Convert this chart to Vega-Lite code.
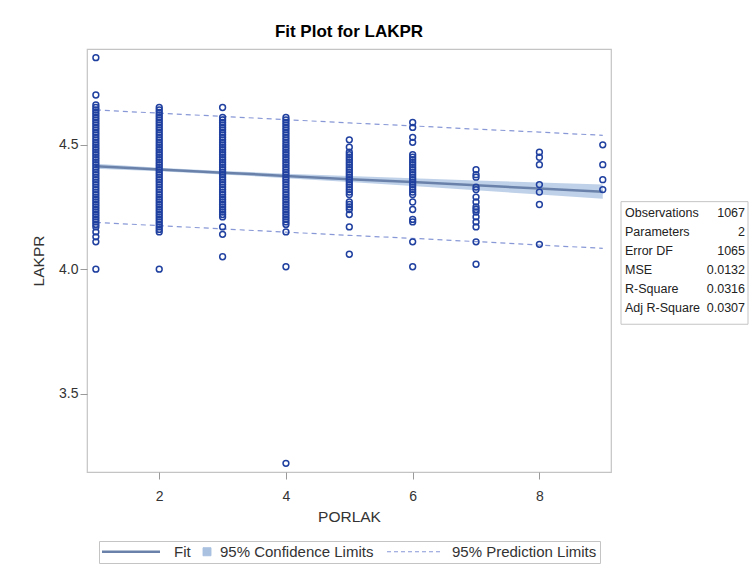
{
"$schema":"https://vega.github.io/schema/vega-lite/v6.json",
"padding":{"left":30,"top":22,"right":0,"bottom":0},
"background":"white",
"config":{"font":"Liberation Sans","view":{"stroke":"#c4c4c4","strokeWidth":1.2},
"legend":{"layout":{"bottom":{"anchor":"middle"}}},
"axis":{"grid":false,"domain":false,"tickColor":"#9a9a9a","tickSize":7,"labelFontSize":14,"labelColor":"#333333","titleFontSize":15.5,"titleFontWeight":"normal","titleColor":"#333333","labelFont":"Liberation Sans","titleFont":"Liberation Sans"}},
"datasets":{
"pts":[
{"PORLAK":1,"LAKPR":4.85},{"PORLAK":1,"LAKPR":4.70},{"PORLAK":1,"LAKPR":4.66},{"PORLAK":1,"LAKPR":4.65},{"PORLAK":1,"LAKPR":4.64},{"PORLAK":1,"LAKPR":4.63},{"PORLAK":1,"LAKPR":4.62},{"PORLAK":1,"LAKPR":4.61},{"PORLAK":1,"LAKPR":4.60},{"PORLAK":1,"LAKPR":4.59},{"PORLAK":1,"LAKPR":4.58},{"PORLAK":1,"LAKPR":4.57},{"PORLAK":1,"LAKPR":4.56},{"PORLAK":1,"LAKPR":4.55},{"PORLAK":1,"LAKPR":4.54},{"PORLAK":1,"LAKPR":4.53},{"PORLAK":1,"LAKPR":4.52},{"PORLAK":1,"LAKPR":4.51},{"PORLAK":1,"LAKPR":4.50},{"PORLAK":1,"LAKPR":4.49},{"PORLAK":1,"LAKPR":4.48},{"PORLAK":1,"LAKPR":4.47},{"PORLAK":1,"LAKPR":4.46},{"PORLAK":1,"LAKPR":4.45},{"PORLAK":1,"LAKPR":4.44},{"PORLAK":1,"LAKPR":4.43},{"PORLAK":1,"LAKPR":4.42},{"PORLAK":1,"LAKPR":4.41},{"PORLAK":1,"LAKPR":4.40},{"PORLAK":1,"LAKPR":4.39},{"PORLAK":1,"LAKPR":4.38},{"PORLAK":1,"LAKPR":4.37},{"PORLAK":1,"LAKPR":4.36},{"PORLAK":1,"LAKPR":4.35},{"PORLAK":1,"LAKPR":4.34},{"PORLAK":1,"LAKPR":4.33},{"PORLAK":1,"LAKPR":4.32},{"PORLAK":1,"LAKPR":4.31},{"PORLAK":1,"LAKPR":4.30},{"PORLAK":1,"LAKPR":4.29},{"PORLAK":1,"LAKPR":4.28},{"PORLAK":1,"LAKPR":4.27},{"PORLAK":1,"LAKPR":4.26},{"PORLAK":1,"LAKPR":4.25},{"PORLAK":1,"LAKPR":4.24},{"PORLAK":1,"LAKPR":4.23},{"PORLAK":1,"LAKPR":4.22},{"PORLAK":1,"LAKPR":4.21},{"PORLAK":1,"LAKPR":4.20},{"PORLAK":1,"LAKPR":4.19},{"PORLAK":1,"LAKPR":4.18},{"PORLAK":1,"LAKPR":4.17},{"PORLAK":1,"LAKPR":4.15},{"PORLAK":1,"LAKPR":4.13},{"PORLAK":1,"LAKPR":4.11},{"PORLAK":1,"LAKPR":4.00},
{"PORLAK":2,"LAKPR":4.65},{"PORLAK":2,"LAKPR":4.64},{"PORLAK":2,"LAKPR":4.63},{"PORLAK":2,"LAKPR":4.62},{"PORLAK":2,"LAKPR":4.61},{"PORLAK":2,"LAKPR":4.60},{"PORLAK":2,"LAKPR":4.59},{"PORLAK":2,"LAKPR":4.58},{"PORLAK":2,"LAKPR":4.57},{"PORLAK":2,"LAKPR":4.56},{"PORLAK":2,"LAKPR":4.55},{"PORLAK":2,"LAKPR":4.54},{"PORLAK":2,"LAKPR":4.53},{"PORLAK":2,"LAKPR":4.52},{"PORLAK":2,"LAKPR":4.51},{"PORLAK":2,"LAKPR":4.50},{"PORLAK":2,"LAKPR":4.49},{"PORLAK":2,"LAKPR":4.48},{"PORLAK":2,"LAKPR":4.47},{"PORLAK":2,"LAKPR":4.46},{"PORLAK":2,"LAKPR":4.45},{"PORLAK":2,"LAKPR":4.44},{"PORLAK":2,"LAKPR":4.43},{"PORLAK":2,"LAKPR":4.42},{"PORLAK":2,"LAKPR":4.41},{"PORLAK":2,"LAKPR":4.40},{"PORLAK":2,"LAKPR":4.39},{"PORLAK":2,"LAKPR":4.38},{"PORLAK":2,"LAKPR":4.37},{"PORLAK":2,"LAKPR":4.36},{"PORLAK":2,"LAKPR":4.35},{"PORLAK":2,"LAKPR":4.34},{"PORLAK":2,"LAKPR":4.33},{"PORLAK":2,"LAKPR":4.32},{"PORLAK":2,"LAKPR":4.31},{"PORLAK":2,"LAKPR":4.30},{"PORLAK":2,"LAKPR":4.29},{"PORLAK":2,"LAKPR":4.28},{"PORLAK":2,"LAKPR":4.27},{"PORLAK":2,"LAKPR":4.26},{"PORLAK":2,"LAKPR":4.25},{"PORLAK":2,"LAKPR":4.24},{"PORLAK":2,"LAKPR":4.23},{"PORLAK":2,"LAKPR":4.22},{"PORLAK":2,"LAKPR":4.21},{"PORLAK":2,"LAKPR":4.20},{"PORLAK":2,"LAKPR":4.19},{"PORLAK":2,"LAKPR":4.18},{"PORLAK":2,"LAKPR":4.17},{"PORLAK":2,"LAKPR":4.16},{"PORLAK":2,"LAKPR":4.15},{"PORLAK":2,"LAKPR":4.00},
{"PORLAK":3,"LAKPR":4.65},{"PORLAK":3,"LAKPR":4.61},{"PORLAK":3,"LAKPR":4.60},{"PORLAK":3,"LAKPR":4.59},{"PORLAK":3,"LAKPR":4.58},{"PORLAK":3,"LAKPR":4.57},{"PORLAK":3,"LAKPR":4.56},{"PORLAK":3,"LAKPR":4.55},{"PORLAK":3,"LAKPR":4.54},{"PORLAK":3,"LAKPR":4.53},{"PORLAK":3,"LAKPR":4.52},{"PORLAK":3,"LAKPR":4.51},{"PORLAK":3,"LAKPR":4.50},{"PORLAK":3,"LAKPR":4.49},{"PORLAK":3,"LAKPR":4.48},{"PORLAK":3,"LAKPR":4.47},{"PORLAK":3,"LAKPR":4.46},{"PORLAK":3,"LAKPR":4.45},{"PORLAK":3,"LAKPR":4.44},{"PORLAK":3,"LAKPR":4.43},{"PORLAK":3,"LAKPR":4.42},{"PORLAK":3,"LAKPR":4.41},{"PORLAK":3,"LAKPR":4.40},{"PORLAK":3,"LAKPR":4.39},{"PORLAK":3,"LAKPR":4.38},{"PORLAK":3,"LAKPR":4.37},{"PORLAK":3,"LAKPR":4.36},{"PORLAK":3,"LAKPR":4.35},{"PORLAK":3,"LAKPR":4.34},{"PORLAK":3,"LAKPR":4.33},{"PORLAK":3,"LAKPR":4.32},{"PORLAK":3,"LAKPR":4.31},{"PORLAK":3,"LAKPR":4.30},{"PORLAK":3,"LAKPR":4.29},{"PORLAK":3,"LAKPR":4.28},{"PORLAK":3,"LAKPR":4.27},{"PORLAK":3,"LAKPR":4.26},{"PORLAK":3,"LAKPR":4.25},{"PORLAK":3,"LAKPR":4.24},{"PORLAK":3,"LAKPR":4.23},{"PORLAK":3,"LAKPR":4.22},{"PORLAK":3,"LAKPR":4.21},{"PORLAK":3,"LAKPR":4.17},{"PORLAK":3,"LAKPR":4.14},{"PORLAK":3,"LAKPR":4.05},
{"PORLAK":4,"LAKPR":4.61},{"PORLAK":4,"LAKPR":4.60},{"PORLAK":4,"LAKPR":4.59},{"PORLAK":4,"LAKPR":4.58},{"PORLAK":4,"LAKPR":4.57},{"PORLAK":4,"LAKPR":4.56},{"PORLAK":4,"LAKPR":4.55},{"PORLAK":4,"LAKPR":4.54},{"PORLAK":4,"LAKPR":4.53},{"PORLAK":4,"LAKPR":4.52},{"PORLAK":4,"LAKPR":4.51},{"PORLAK":4,"LAKPR":4.50},{"PORLAK":4,"LAKPR":4.49},{"PORLAK":4,"LAKPR":4.48},{"PORLAK":4,"LAKPR":4.47},{"PORLAK":4,"LAKPR":4.46},{"PORLAK":4,"LAKPR":4.45},{"PORLAK":4,"LAKPR":4.44},{"PORLAK":4,"LAKPR":4.43},{"PORLAK":4,"LAKPR":4.42},{"PORLAK":4,"LAKPR":4.41},{"PORLAK":4,"LAKPR":4.40},{"PORLAK":4,"LAKPR":4.39},{"PORLAK":4,"LAKPR":4.38},{"PORLAK":4,"LAKPR":4.37},{"PORLAK":4,"LAKPR":4.36},{"PORLAK":4,"LAKPR":4.35},{"PORLAK":4,"LAKPR":4.34},{"PORLAK":4,"LAKPR":4.33},{"PORLAK":4,"LAKPR":4.32},{"PORLAK":4,"LAKPR":4.31},{"PORLAK":4,"LAKPR":4.30},{"PORLAK":4,"LAKPR":4.29},{"PORLAK":4,"LAKPR":4.28},{"PORLAK":4,"LAKPR":4.27},{"PORLAK":4,"LAKPR":4.26},{"PORLAK":4,"LAKPR":4.25},{"PORLAK":4,"LAKPR":4.24},{"PORLAK":4,"LAKPR":4.23},{"PORLAK":4,"LAKPR":4.22},{"PORLAK":4,"LAKPR":4.21},{"PORLAK":4,"LAKPR":4.20},{"PORLAK":4,"LAKPR":4.19},{"PORLAK":4,"LAKPR":4.18},{"PORLAK":4,"LAKPR":4.15},{"PORLAK":4,"LAKPR":4.01},{"PORLAK":4,"LAKPR":3.22},
{"PORLAK":5,"LAKPR":4.52},{"PORLAK":5,"LAKPR":4.49},{"PORLAK":5,"LAKPR":4.47},{"PORLAK":5,"LAKPR":4.46},{"PORLAK":5,"LAKPR":4.45},{"PORLAK":5,"LAKPR":4.44},{"PORLAK":5,"LAKPR":4.43},{"PORLAK":5,"LAKPR":4.42},{"PORLAK":5,"LAKPR":4.41},{"PORLAK":5,"LAKPR":4.40},{"PORLAK":5,"LAKPR":4.39},{"PORLAK":5,"LAKPR":4.38},{"PORLAK":5,"LAKPR":4.37},{"PORLAK":5,"LAKPR":4.36},{"PORLAK":5,"LAKPR":4.35},{"PORLAK":5,"LAKPR":4.34},{"PORLAK":5,"LAKPR":4.33},{"PORLAK":5,"LAKPR":4.32},{"PORLAK":5,"LAKPR":4.31},{"PORLAK":5,"LAKPR":4.30},{"PORLAK":5,"LAKPR":4.27},{"PORLAK":5,"LAKPR":4.26},{"PORLAK":5,"LAKPR":4.25},{"PORLAK":5,"LAKPR":4.24},{"PORLAK":5,"LAKPR":4.22},{"PORLAK":5,"LAKPR":4.17},{"PORLAK":5,"LAKPR":4.06},
{"PORLAK":6,"LAKPR":4.59},{"PORLAK":6,"LAKPR":4.57},{"PORLAK":6,"LAKPR":4.53},{"PORLAK":6,"LAKPR":4.51},{"PORLAK":6,"LAKPR":4.46},{"PORLAK":6,"LAKPR":4.45},{"PORLAK":6,"LAKPR":4.44},{"PORLAK":6,"LAKPR":4.43},{"PORLAK":6,"LAKPR":4.42},{"PORLAK":6,"LAKPR":4.41},{"PORLAK":6,"LAKPR":4.40},{"PORLAK":6,"LAKPR":4.39},{"PORLAK":6,"LAKPR":4.38},{"PORLAK":6,"LAKPR":4.37},{"PORLAK":6,"LAKPR":4.36},{"PORLAK":6,"LAKPR":4.35},{"PORLAK":6,"LAKPR":4.34},{"PORLAK":6,"LAKPR":4.33},{"PORLAK":6,"LAKPR":4.32},{"PORLAK":6,"LAKPR":4.31},{"PORLAK":6,"LAKPR":4.30},{"PORLAK":6,"LAKPR":4.27},{"PORLAK":6,"LAKPR":4.24},{"PORLAK":6,"LAKPR":4.20},{"PORLAK":6,"LAKPR":4.19},{"PORLAK":6,"LAKPR":4.11},{"PORLAK":6,"LAKPR":4.01},
{"PORLAK":7,"LAKPR":4.40},{"PORLAK":7,"LAKPR":4.38},{"PORLAK":7,"LAKPR":4.37},{"PORLAK":7,"LAKPR":4.33},{"PORLAK":7,"LAKPR":4.32},{"PORLAK":7,"LAKPR":4.29},{"PORLAK":7,"LAKPR":4.27},{"PORLAK":7,"LAKPR":4.25},{"PORLAK":7,"LAKPR":4.24},{"PORLAK":7,"LAKPR":4.23},{"PORLAK":7,"LAKPR":4.21},{"PORLAK":7,"LAKPR":4.19},{"PORLAK":7,"LAKPR":4.17},{"PORLAK":7,"LAKPR":4.11},{"PORLAK":7,"LAKPR":4.02},
{"PORLAK":8,"LAKPR":4.47},{"PORLAK":8,"LAKPR":4.45},{"PORLAK":8,"LAKPR":4.42},{"PORLAK":8,"LAKPR":4.34},{"PORLAK":8,"LAKPR":4.31},{"PORLAK":8,"LAKPR":4.26},{"PORLAK":8,"LAKPR":4.10},
{"PORLAK":9,"LAKPR":4.50},{"PORLAK":9,"LAKPR":4.42},{"PORLAK":9,"LAKPR":4.36},{"PORLAK":9,"LAKPR":4.32}
],
"fit":[
{"PORLAK":1,"fit":4.414,"cl":4.404,"cu":4.424,"pl":4.188,"pu":4.640},
{"PORLAK":2,"fit":4.401,"cl":4.394,"cu":4.408,"pl":4.175,"pu":4.627},
{"PORLAK":3,"fit":4.388,"cl":4.381,"cu":4.395,"pl":4.162,"pu":4.614},
{"PORLAK":4,"fit":4.375,"cl":4.366,"cu":4.384,"pl":4.149,"pu":4.601},
{"PORLAK":5,"fit":4.362,"cl":4.350,"cu":4.375,"pl":4.136,"pu":4.588},
{"PORLAK":6,"fit":4.350,"cl":4.334,"cu":4.366,"pl":4.124,"pu":4.576},
{"PORLAK":7,"fit":4.337,"cl":4.317,"cu":4.357,"pl":4.111,"pu":4.563},
{"PORLAK":8,"fit":4.324,"cl":4.300,"cu":4.348,"pl":4.097,"pu":4.551},
{"PORLAK":9,"fit":4.311,"cl":4.283,"cu":4.340,"pl":4.084,"pu":4.538}
],
"stats":[
{"row":1,"label":"Observations","value":"1067"},
{"row":2,"label":"Parameters","value":"2"},
{"row":3,"label":"Error DF","value":"1065"},
{"row":4,"label":"MSE","value":"0.0132"},
{"row":5,"label":"R-Square","value":"0.0316"},
{"row":6,"label":"Adj R-Square","value":"0.0307"}
]
},
"spacing":8,
"resolve":{"scale":{"color":"independent"},"legend":{"color":"independent"}},
"hconcat":[
{
"title":{"text":"Fit Plot for LAKPR","fontSize":17,"fontWeight":"bold","font":"Liberation Sans","color":"#000000","offset":8},
"width":524,"height":423,
"layer":[
{"data":{"name":"fit"},"mark":{"type":"area","opacity":0.75},
"encoding":{
"x":{"field":"PORLAK","type":"quantitative","scale":{"domain":[0.86,9.13],"nice":false,"zero":false},"axis":{"values":[2,4,6,8],"format":"d","title":"PORLAK","labelPadding":10,"titlePadding":6}},
"y":{"field":"cl","type":"quantitative","scale":{"domain":[3.185,4.885],"nice":false,"zero":false},"axis":{"values":[3.5,4.0,4.5],"format":".1f","title":"LAKPR","labelPadding":2,"titlePadding":12}},
"y2":{"field":"cu"},
"color":{"datum":"95% Confidence Limits","type":"nominal",
"scale":{"domain":["Fit","95% Confidence Limits","95% Prediction Limits"],"range":["#6a82aa","#aac1e0","#8898d6"]},
"legend":{"title":null,"orient":"bottom","direction":"horizontal","symbolType":"stroke","labelFont":"Liberation Sans","labelFontSize":15,"labelColor":"#333333","strokeColor":"#c4c4c4","padding":3,"columnPadding":10,"labelOffset":8,"offset":16,"symbolStrokeWidth":2.5,
"encode":{"symbols":{"update":{
"shape":{"signal":"datum.value === '95% Confidence Limits' ? 'square' : 'stroke'"},
"size":{"signal":"datum.value === '95% Confidence Limits' ? 64 : (datum.value === 'Fit' ? 3364 : 2809)"},
"x":{"signal":"datum.value === 'Fit' ? 29 : (datum.value === '95% Confidence Limits' ? 4 : 26.5)"},
"strokeDash":{"signal":"datum.value === '95% Prediction Limits' ? [4,3] : [1,0]"},
"strokeWidth":{"signal":"datum.value === '95% Prediction Limits' ? 1.2 : (datum.value === 'Fit' ? 2.5 : 1)"},
"fill":{"signal":"datum.value === '95% Confidence Limits' ? '#aac1e0' : 'transparent'"},
"stroke":{"signal":"datum.value === 'Fit' ? '#6a82aa' : (datum.value === '95% Confidence Limits' ? '#3e4c6e' : '#8898d6')"},
"opacity":{"value":1}}},
"labels":{"update":{"x":{"signal":"datum.value === 'Fit' ? 72 : (datum.value === '95% Confidence Limits' ? 17 : 65)"}}}}}}
}},
{"data":{"name":"fit"},"mark":{"type":"line","strokeDash":[5,4],"strokeWidth":1.2},
"encoding":{"x":{"field":"PORLAK","type":"quantitative"},"y":{"field":"pu","type":"quantitative"},"color":{"datum":"95% Prediction Limits","type":"nominal",
"legend":{"title":null,"orient":"bottom","direction":"horizontal","symbolType":"stroke","labelFont":"Liberation Sans","labelFontSize":15,"labelColor":"#333333","strokeColor":"#c4c4c4","padding":3,"columnPadding":10,"labelOffset":8,"offset":16,"symbolStrokeWidth":2.5,
"encode":{"symbols":{"update":{
"shape":{"signal":"datum.value === '95% Confidence Limits' ? 'square' : 'stroke'"},
"size":{"signal":"datum.value === '95% Confidence Limits' ? 64 : (datum.value === 'Fit' ? 3364 : 2809)"},
"x":{"signal":"datum.value === 'Fit' ? 29 : (datum.value === '95% Confidence Limits' ? 4 : 26.5)"},
"strokeDash":{"signal":"datum.value === '95% Prediction Limits' ? [4,3] : [1,0]"},
"strokeWidth":{"signal":"datum.value === '95% Prediction Limits' ? 1.2 : (datum.value === 'Fit' ? 2.5 : 1)"},
"fill":{"signal":"datum.value === '95% Confidence Limits' ? '#aac1e0' : 'transparent'"},
"stroke":{"signal":"datum.value === 'Fit' ? '#6a82aa' : (datum.value === '95% Confidence Limits' ? '#3e4c6e' : '#8898d6')"},
"opacity":{"value":1}}},
"labels":{"update":{"x":{"signal":"datum.value === 'Fit' ? 72 : (datum.value === '95% Confidence Limits' ? 17 : 65)"}}}}}}}},
{"data":{"name":"fit"},"mark":{"type":"line","strokeDash":[5,4],"strokeWidth":1.2},
"encoding":{"x":{"field":"PORLAK","type":"quantitative"},"y":{"field":"pl","type":"quantitative"},"color":{"datum":"95% Prediction Limits","type":"nominal"}}},
{"data":{"name":"fit"},"mark":{"type":"line","strokeWidth":2.5},
"encoding":{"x":{"field":"PORLAK","type":"quantitative"},"y":{"field":"fit","type":"quantitative"},"color":{"datum":"Fit","type":"nominal",
"legend":{"title":null,"orient":"bottom","direction":"horizontal","symbolType":"stroke","labelFont":"Liberation Sans","labelFontSize":15,"labelColor":"#333333","strokeColor":"#c4c4c4","padding":3,"columnPadding":10,"labelOffset":8,"offset":16,"symbolStrokeWidth":2.5,
"encode":{"symbols":{"update":{
"shape":{"signal":"datum.value === '95% Confidence Limits' ? 'square' : 'stroke'"},
"size":{"signal":"datum.value === '95% Confidence Limits' ? 64 : (datum.value === 'Fit' ? 3364 : 2809)"},
"x":{"signal":"datum.value === 'Fit' ? 29 : (datum.value === '95% Confidence Limits' ? 4 : 26.5)"},
"strokeDash":{"signal":"datum.value === '95% Prediction Limits' ? [4,3] : [1,0]"},
"strokeWidth":{"signal":"datum.value === '95% Prediction Limits' ? 1.2 : (datum.value === 'Fit' ? 2.5 : 1)"},
"fill":{"signal":"datum.value === '95% Confidence Limits' ? '#aac1e0' : 'transparent'"},
"stroke":{"signal":"datum.value === 'Fit' ? '#6a82aa' : (datum.value === '95% Confidence Limits' ? '#3e4c6e' : '#8898d6')"},
"opacity":{"value":1}}},
"labels":{"update":{"x":{"signal":"datum.value === 'Fit' ? 72 : (datum.value === '95% Confidence Limits' ? 17 : 65)"}}}}}}}},
{"data":{"name":"pts"},"mark":{"type":"point","shape":"circle","filled":false,"size":34,"strokeWidth":1.5,"color":"#2040a0","opacity":1},
"encoding":{"x":{"field":"PORLAK","type":"quantitative"},"y":{"field":"LAKPR","type":"quantitative"}}}
]
},
{
"width":127,"height":423,
"view":{"stroke":null},
"data":{"name":"stats"},
"layer":[
{"mark":{"type":"rect","fill":"white","stroke":"#c4c4c4","strokeWidth":1,"yOffset":-11.5,"y2Offset":16},
"encoding":{"x":{"datum":0,"type":"quantitative","scale":{"domain":[0,1],"nice":false},"axis":null},"x2":{"datum":1},
"y":{"aggregate":"min","field":"row","type":"quantitative","scale":{"domain":[-7.63,14.61],"nice":false,"zero":false,"reverse":true},"axis":null},"y2":{"aggregate":"max","field":"row"}}},
{"mark":{"type":"text","align":"left","baseline":"middle","dx":4,"fontSize":12.5,"font":"Liberation Sans","color":"#222222"},
"encoding":{"x":{"datum":0,"type":"quantitative"},"y":{"field":"row","type":"quantitative"},"text":{"field":"label"}}},
{"mark":{"type":"text","align":"right","baseline":"middle","dx":-3,"fontSize":12.5,"font":"Liberation Sans","color":"#222222"},
"encoding":{"x":{"datum":1,"type":"quantitative"},"y":{"field":"row","type":"quantitative"},"text":{"field":"value"}}}
]
}
]
}
